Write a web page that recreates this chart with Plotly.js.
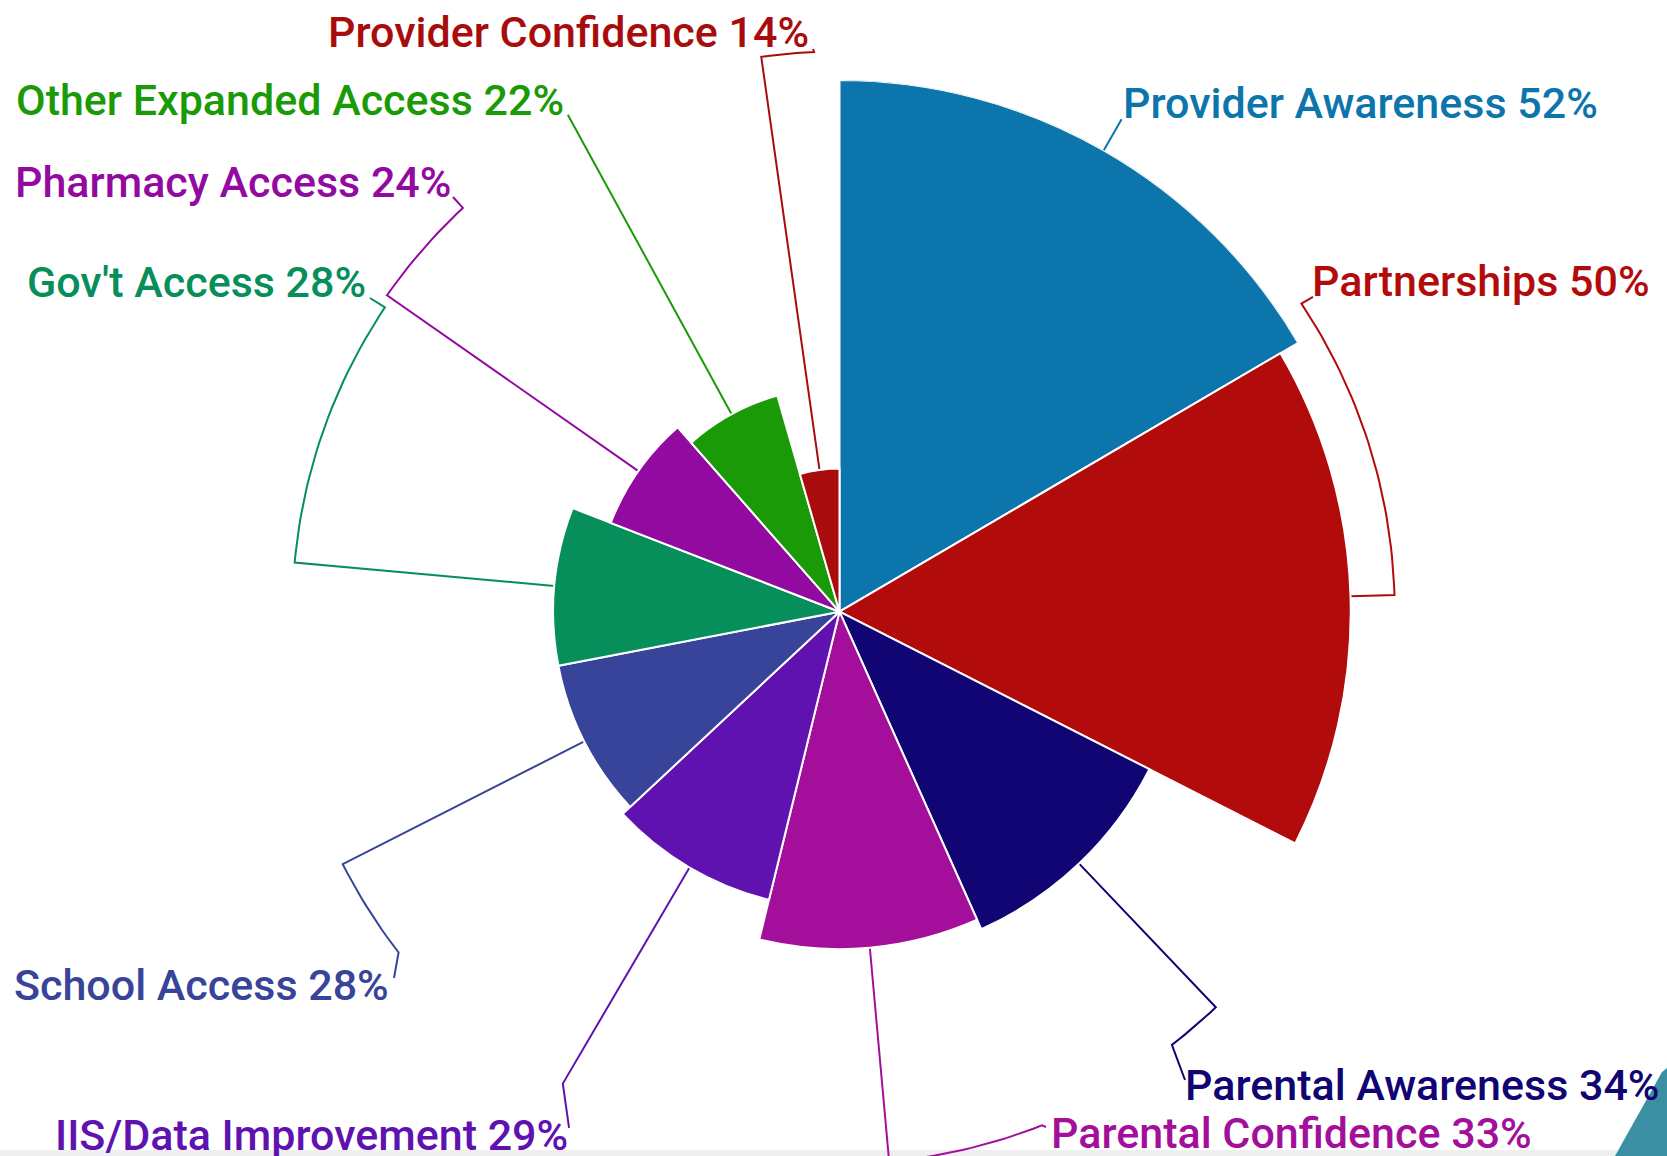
<!DOCTYPE html>
<html>
<head>
<meta charset="utf-8">
<script src="https://cdn.plot.ly/plotly-3.0.1.min.js"></script>
<style>
  html, body { margin: 0; padding: 0; background: #ffffff; }
  #chart { width: 1667px; height: 1156px; }
</style>
</head>
<body>
<div id="chart"></div>
<script>
// ---------------- data ----------------
const categories = ["Provider Awareness", "Partnerships", "Parental Awareness", "Parental Confidence",
  "IIS/Data Improvement", "School Access", "Gov't Access", "Pharmacy Access",
  "Other Expanded Access", "Provider Confidence"];
const percentValues = [52, 50, 34, 33, 29, 28, 28, 24, 22, 14];
const sliceColors = ["#0c75ab", "#b20b0b", "#100572", "#a30f9a", "#6012b0",
  "#37449a", "#068f5b", "#930aa0", "#1b9a08", "#a80c0c"];

// ---------------- label / connector placement (chart units, r in % units) ----------------
const labelSide = ["left", "left", "left", "left", "right", "right", "right", "right", "right", "right"];
const connectorRadius = [55.5, 54.3, 53.4, 54.0, 53.5, 54.5, 53.5, 54.0, 55.4, 54.8];
const connectorArcEnd = [null, 56.3, 142.5, 158.5, null, 232.3, 303.8, 317.0, null, 357.4];
const connectorEndX = [null, 46.31, 33.79, 20.20, -26.45, -43.57, -45.92, -37.80, null, -2.59];
const connectorEndY = [null, 30.78, -45.80, -50.40, -50.49, -35.82, 30.68, 40.56, null, 55.03];
const labelX = [27.53, 46.01, 33.59, 20.49, -26.36, -43.86, -46.11, -37.80, -26.75, -2.79];
const labelY = [49.75, 32.34, -46.29, -51.03, -51.18, -36.51, 32.24, 42.02, 50.00, 56.72];

// ---------------- geometry of the page ----------------
const W = 1667, H = 1156;
const CX = 839.5, CY = 611.7;      // pixel centre of the rose
const PX_PER_UNIT = 10.225;         // pixels per 1 % of radius

const total = percentValues.reduce((a, b) => a + b, 0);
const widths = percentValues.map(v => v / total * 360);
const thetaMid = [];
let acc = 0;
widths.forEach(w => { thetaMid.push(acc + w / 2); acc += w; });

const rMax = Math.max(...percentValues);
const Rpx = rMax * PX_PER_UNIT;

function pt(r, th) {
  const a = th * Math.PI / 180;
  return [r * Math.sin(a), r * Math.cos(a)];
}

const traces = [];

// connector lines (cartesian overlay, same scale as the polar subplot)
categories.forEach((c, i) => {
  const mid = thetaMid[i];
  const xs = [], ys = [];
  let p = pt(percentValues[i], mid); xs.push(p[0]); ys.push(p[1]);
  p = pt(connectorRadius[i], mid); xs.push(p[0]); ys.push(p[1]);
  const end = connectorArcEnd[i] === null ? mid : connectorArcEnd[i];
  const steps = Math.ceil(Math.abs(end - mid));
  for (let k = 1; k <= steps; k++) {
    const th = mid + (end - mid) * k / steps;
    p = pt(connectorRadius[i], th); xs.push(p[0]); ys.push(p[1]);
  }
  if (connectorEndX[i] !== null) { xs.push(connectorEndX[i]); ys.push(connectorEndY[i]); }
  traces.push({
    type: "scatter", mode: "lines", x: xs, y: ys,
    xaxis: "x", yaxis: "y",
    line: { color: sliceColors[i], width: 2 },
    hoverinfo: "skip", showlegend: false
  });
});

traces.push({
  type: "barpolar",
  r: percentValues,
  theta: thetaMid,
  width: widths,
  marker: { color: sliceColors, line: { color: "#ffffff", width: 2 } },
  hoverinfo: "skip",
  showlegend: false
});

const annotations = categories.map((c, i) => ({
  xref: "x", yref: "y",
  x: labelX[i], y: labelY[i],
  xanchor: labelSide[i], yanchor: "middle",
  text: c + " " + percentValues[i] + "%",
  showarrow: false,
  font: { family: "Roboto, 'Open Sans', sans-serif", size: 43, weight: 500, color: sliceColors[i] }
}));

const layout = {
  width: W, height: H,
  margin: { l: 0, r: 0, t: 0, b: 0, pad: 0 },
  paper_bgcolor: "#ffffff",
  plot_bgcolor: "rgba(0,0,0,0)",
  showlegend: false,
  hovermode: false,
  polar: {
    domain: { x: [(CX - Rpx) / W, (CX + Rpx) / W], y: [(H - CY - Rpx) / H, (H - CY + Rpx) / H] },
    bgcolor: "rgba(0,0,0,0)",
    radialaxis: { visible: false, range: [0, rMax] },
    angularaxis: { visible: false, rotation: 90, direction: "clockwise" }
  },
  xaxis: { domain: [0, 1], range: [-CX / PX_PER_UNIT, (W - CX) / PX_PER_UNIT], visible: false, fixedrange: true },
  yaxis: { domain: [0, 1], range: [(CY - H) / PX_PER_UNIT, CY / PX_PER_UNIT], visible: false, fixedrange: true },
  annotations: annotations,
  shapes: [
    { type: "rect", xref: "paper", yref: "paper", x0: 0, x1: 1, y0: 0, y1: 6 / H,
      fillcolor: "#efefef", line: { width: 0 }, layer: "below" },
    { type: "path", xref: "paper", yref: "paper",
      path: "M " + (1615 / W) + " 0 L " + (1662 / W) + " " + (84 / H) + " L 1 " + (88 / H) + " L 1 0 Z",
      fillcolor: "#3a8fa3", line: { width: 0 }, layer: "above" }
  ]
};

Plotly.newPlot("chart", traces, layout, { displayModeBar: false, staticPlot: true });
</script>
</body>
</html>
